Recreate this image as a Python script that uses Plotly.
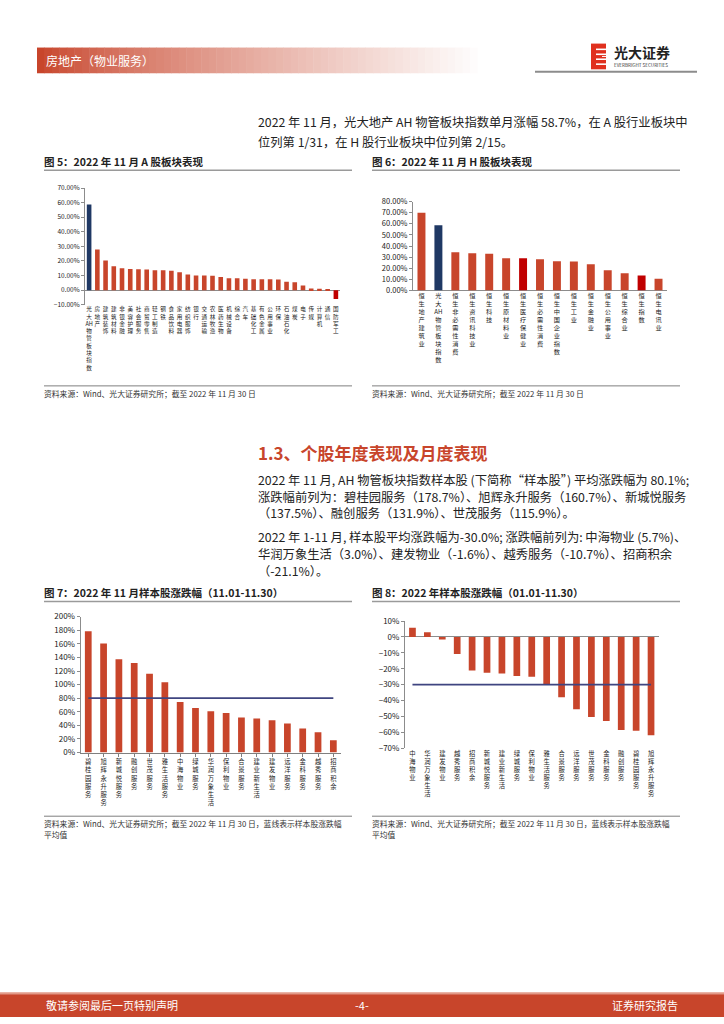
import plotly.graph_objects as go

W, H = 724, 1024
FONT = "Noto Sans CJK SC"
ORANGE = "#C8452B"
NAVY = "#1F3864"
DARKRED = "#C00000"
AVGLINE = "#3F4580"

# ---------------- data ----------------
a_labels = ["光大AH物管板块指数", "房地产", "建筑装饰", "建筑材料", "非银金融", "美容护理", "社会服务",
            "商贸零售", "轻工制造", "钢铁", "食品饮料", "家用电器", "纺织服饰", "银行", "交通运输",
            "农林牧渔", "医药生物", "机械设备", "综合", "汽车", "基础化工", "有色金属", "公用事业",
            "环保", "石油石化", "煤炭", "电子", "传媒", "计算机", "通信", "国防军工"]
a_values = [58.7, 27.8, 20.4, 16.4, 15.0, 14.5, 14.4, 14.2, 13.6, 13.6, 13.3, 12.3, 10.8, 10.1, 10.1,
            9.8, 9.0, 8.2, 8.1, 7.8, 7.5, 7.4, 7.4, 7.3, 5.8, 5.4, 3.2, 1.1, 1.0, 0.2, -6.0]
a_highlight = {0: NAVY, 30: DARKRED}

h_labels = ["恒生地产建筑业", "光大AH物管板块指数", "恒生非必需性消费", "恒生资讯科技业", "恒生科技",
            "恒生原材料业", "恒生医疗保健业", "恒生必需性消费", "恒生中国企业指数", "恒生工业",
            "恒生金融业", "恒生公用事业", "恒生综合业", "恒生指数", "恒生电讯业"]
h_values = [69.9, 58.7, 34.4, 33.5, 33.2, 29.0, 29.0, 28.1, 26.4, 26.1, 23.7, 18.4, 15.7, 13.6, 10.7]
h_highlight = {1: NAVY, 6: DARKRED, 13: DARKRED}

m_labels = ["碧桂园服务", "旭辉永升服务", "新城悦服务", "融创服务", "世茂服务", "雅生活服务", "中海物业",
            "绿城服务", "华润万象生活", "保利物业", "合景服务", "建业新生活", "建发物业", "远洋服务",
            "金科服务", "越秀服务", "招商积余"]
m_values = [178.7, 160.7, 137.5, 131.9, 115.9, 103.5, 74.3, 65.5, 60.7, 58.3, 51.5, 50.0, 47.6, 42.7,
            35.4, 30.1, 18.0]
m_avg = 80.1

y_labels = ["中海物业", "华润万象生活", "建发物业", "越秀服务", "招商积余", "新城悦服务", "建业新生活",
            "绿城服务", "保利物业", "雅生活服务", "合景服务", "远洋服务", "世茂服务", "金科服务",
            "融创服务", "碧桂园服务", "旭辉永升服务"]
y_values = [5.7, 3.0, -1.6, -10.7, -21.1, -22.5, -23.0, -24.6, -25.0, -30.2, -38.0, -45.5, -50.3,
            -52.8, -58.6, -59.0, -61.9]
y_avg = -30.0


def fx(x):
    return x / W


def fy(y):
    return 1 - y / H


def stack(s):
    out, i = [], 0
    while i < len(s):
        if s[i:i + 2] == "AH":
            out.append("AH")
            i += 2
        else:
            out.append(s[i])
            i += 1
    return "<br>".join(out)


fig = go.Figure()


def add_bar_chart(idx, labels, values, colors, xdom, ydom, yrange, dtick, fmt, tfs, lfs, width,
                  avg=None, xticks=False):
    xa = "x" if idx == 1 else f"x{idx}"
    ya = "y" if idx == 1 else f"y{idx}"
    n = len(labels)
    xs = list(range(n))
    fig.add_trace(go.Bar(x=xs, y=values, width=width, marker=dict(color=colors, line=dict(width=0)),
                         xaxis=xa, yaxis=ya, showlegend=False, hoverinfo="skip"))
    if avg is not None:
        fig.add_trace(go.Scatter(x=[xs[0], xs[-1]], y=[avg, avg], mode="lines",
                                 line=dict(color=AVGLINE, width=1.6), xaxis=xa, yaxis=ya,
                                 showlegend=False, hoverinfo="skip"))
    kx = "xaxis" if idx == 1 else f"xaxis{idx}"
    ky = "yaxis" if idx == 1 else f"yaxis{idx}"
    fig.layout[kx] = dict(domain=[fx(xdom[0]), fx(xdom[1])], anchor=ya, range=[-0.5, n - 0.5],
                          tickvals=xs, ticktext=[stack(l) for l in labels], tickangle=0,
                          tickfont=dict(size=lfs, family=FONT, color="#222"),
                          showgrid=False, zeroline=False,
                          showline=xticks, linecolor="#7f7f7f", linewidth=1,
                          ticks="outside" if xticks else "", tickson="boundaries",
                          ticklen=3, tickcolor="#7f7f7f", fixedrange=True)
    fig.layout[ky] = dict(domain=[fy(ydom[1]), fy(ydom[0])], anchor=xa, range=yrange,
                          dtick=dtick, tick0=0, tickformat=fmt, ticksuffix="%",
                          tickfont=dict(size=tfs, family=FONT, color="#222"),
                          showgrid=False, zeroline=not xticks, zerolinecolor="#8c8c8c",
                          zerolinewidth=1, showline=True, linecolor="#8c8c8c", linewidth=1,
                          ticks="outside", ticklen=3, tickcolor="#8c8c8c", fixedrange=True)


a_colors = [a_highlight.get(i, ORANGE) for i in range(len(a_values))]
h_colors = [h_highlight.get(i, ORANGE) for i in range(len(h_values))]

add_bar_chart(1, a_labels, a_values, a_colors, (85, 340), (184, 302), [-10, 70], 10, ".2f", 6.5, 5.6,
              0.56)
add_bar_chart(2, h_labels, h_values, h_colors, (413, 667), (197.7, 287.7), [0, 80], 10, ".2f", 7.5,
              6.2, 0.47)
add_bar_chart(3, m_labels, m_values, [ORANGE] * len(m_values), (80.6, 341), (617.3, 754.7), [0, 200],
              20, "d", 8, 6.3, 0.44, avg=m_avg, xticks=True)
add_bar_chart(4, y_labels, y_values, [ORANGE] * len(y_values), (405, 658.5), (621.7, 750.3), [-70, 10],
              10, "d", 8, 6.3, 0.45, avg=y_avg)

shapes = []
annos = []


def rect(x0, y0, x1, y1, color, layer="below"):
    shapes.append(dict(type="rect", xref="paper", yref="paper", x0=fx(x0), x1=fx(x1), y0=fy(y1),
                       y1=fy(y0), fillcolor=color, line=dict(width=0), layer=layer))


def hline(x0, x1, y, color, width):
    shapes.append(dict(type="line", xref="paper", yref="paper", x0=fx(x0), x1=fx(x1), y0=fy(y),
                       y1=fy(y), line=dict(color=color, width=width)))


def text(x, y, s, size, color="#222", bold=False, anchor="left"):
    if bold:
        s = f"<b>{s}</b>"
    annos.append(dict(xref="paper", yref="paper", x=fx(x), y=fy(y), text=s, showarrow=False,
                      xanchor=anchor, yanchor="middle", align=anchor,
                      font=dict(size=size, color=color, family=FONT)))


# header gradient bar
N = 60
x0, x1 = 37, 485
c0 = (200, 69, 43)
for i in range(N):
    t = i / (N - 1)
    tt = t ** 0.8
    c = tuple(int(c0[k] + (255 - c0[k]) * tt) for k in range(3))
    rect(x0 + (x1 - x0) * i / N, 42, x0 + (x1 - x0) * (i + 1) / N + 0.5, 68, f"rgb{c}")
text(44, 55, "房地产（物业服务）", 12, "white")

# logo
rect(591, 38, 606, 64, "#E0301E")
for yy in (43, 48, 53, 58):
    rect(596, yy, 606, yy + 1.6, "white", layer="above")
rect(602, 50.5, 606, 51.5, "white", layer="above")
text(612, 47, "光大证券", 14, "#222", bold=True)
text(612, 60, "EVERBRIGHT SECURITIES", 4.6, "#333")
hline(535, 697, 66.5, "#8c8c8c", 2)

# intro paragraph
text(256, 117, "2022 年 11 月，光大地产 AH 物管板块指数单月涨幅 58.7%，在 A 股行业板块中", 12.3)
text(256, 137, "位列第 1/31，在 H 股行业板块中位列第 2/15。", 12.3)

# chart titles
text(42, 157, "图 5：2022 年 11 月 A 股板块表现", 10.5, "#222", bold=True)
text(370, 157, "图 6：2022 年 11 月 H 股板块表现", 10.5, "#222", bold=True)
hline(44, 352, 166, "#9a9a9a", 1.5)
hline(372, 680, 166, "#9a9a9a", 1.5)

# sources top
hline(44, 352, 384, "#7f7f7f", 1)
hline(372, 680, 384, "#7f7f7f", 1)
text(42, 392, "资料来源：Wind、光大证券研究所；截至 2022 年 11 月 30 日", 7.8, "#333")
text(370, 392, "资料来源：Wind、光大证券研究所；截至 2022 年 11 月 30 日", 7.8, "#333")

# section heading
text(256, 451, "1.3、个股年度表现及月度表现", 17, "#C8452B", bold=True)
text(256, 479, "2022 年 11 月, AH 物管板块指数样本股 (下简称“样本股”) 平均涨跌幅为 80.1%;", 12.3)
text(256, 496, "涨跌幅前列为：碧桂园服务（178.7%）、旭辉永升服务（160.7%）、新城悦服务", 12.3)
text(256, 513, "（137.5%）、融创服务（131.9%）、世茂服务（115.9%）。", 12.3)
text(256, 537, "2022 年 1-11 月, 样本股平均涨跌幅为-30.0%; 涨跌幅前列为: 中海物业 (5.7%)、", 12.3)
text(256, 554, "华润万象生活（3.0%）、建发物业（-1.6%）、越秀服务（-10.7%）、招商积余", 12.3)
text(256, 571, "（-21.1%）。", 12.3)

# chart 7/8 titles
text(42, 593, "图 7：2022 年 11 月样本股涨跌幅（11.01-11.30）", 10.5, "#222", bold=True)
text(370, 593, "图 8：2022 年样本股涨跌幅（01.01-11.30）", 10.5, "#222", bold=True)
hline(44, 352, 602, "#9a9a9a", 1.5)
hline(372, 680, 602, "#9a9a9a", 1.5)

# sources bottom
hline(44, 352, 819, "#7f7f7f", 1)
hline(372, 680, 819, "#7f7f7f", 1)
text(42, 826, "资料来源：Wind、光大证券研究所；截至 2022 年 11 月 30 日，蓝线表示样本股涨跌幅", 7.8, "#333")
text(42, 838, "平均值", 7.8, "#333")
text(370, 826, "资料来源：Wind、光大证券研究所；截至 2022 年 11 月 30 日，蓝线表示样本股涨跌幅", 7.8, "#333")
text(370, 838, "平均值", 7.8, "#333")

# footer
rect(0, 997, 724, 999, "#E39A88")
rect(0, 999, 724, 1022, ORANGE)
text(44, 1010, "敬请参阅最后一页特别声明", 11, "white")
text(362, 1010, "-4-", 11, "white", anchor="center")
text(680, 1010, "证券研究报告", 11, "white", anchor="right")

fig.update_layout(width=W, height=H, margin=dict(l=0, r=0, t=0, b=0), paper_bgcolor="white",
                  plot_bgcolor="rgba(0,0,0,0)", shapes=shapes, annotations=annos,
                  font=dict(family=FONT), showlegend=False)
fig.write_html("out.html", config={"displayModeBar": False},
               post_script="document.body.style.margin='0';document.body.style.overflow='hidden';")
